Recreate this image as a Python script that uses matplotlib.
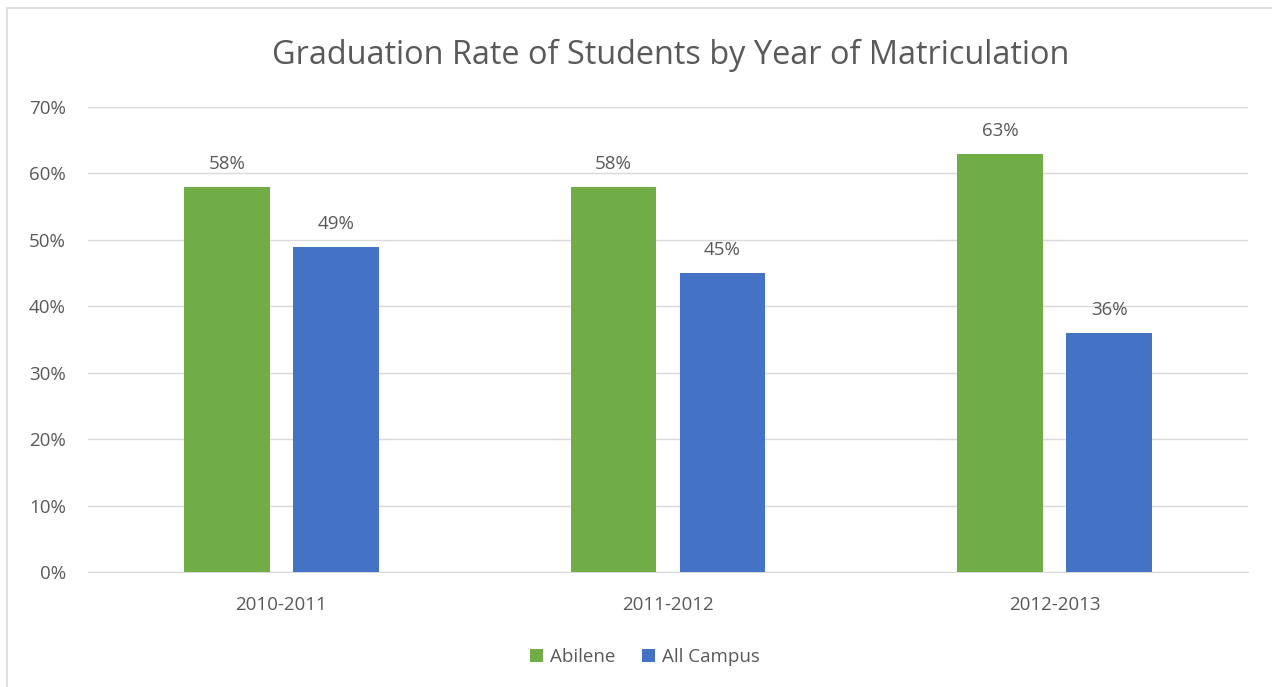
import numpy as np
import matplotlib.pyplot as plt
from matplotlib.patches import Rectangle

# data
years = ["2010-2011", "2011-2012", "2012-2013"]
abilene = [58, 58, 63]
all_campus = [49, 45, 36]
yticks = [0, 10, 20, 30, 40, 50, 60, 70]

green = "#70AD47"
blue = "#4472C4"
text_col = "#595959"
grid_col = "#D9D9D9"
fs = 13.5

plt.rcParams["font.family"] = ["Open Sans", "DejaVu Sans"]

fig = plt.figure(figsize=(12.72, 6.87), dpi=100)
ax = fig.add_axes([88 / 1272, 1 - 572 / 687, 1160 / 1272, 465 / 687])

# chart border like the Excel frame
fig.patches.append(Rectangle((7 / 1272, -0.01), 1.02, 1 - 8 / 687 + 0.01,
                             transform=fig.transFigure, fill=False,
                             edgecolor=grid_col, linewidth=1.2, zorder=0))

x = np.arange(len(years))
w = 0.222
off = 0.141
b1 = ax.bar(x - off, abilene, w, color=green, label="Abilene", zorder=3)
b2 = ax.bar(x + off, all_campus, w, color=blue, label="All Campus", zorder=3)

for bars in (b1, b2):
    for r in bars:
        ax.annotate(f"{r.get_height():.0f}%",
                    (r.get_x() + r.get_width() / 2, r.get_height()),
                    xytext=(0, 10), textcoords="offset points",
                    ha="center", va="bottom", fontsize=fs, color=text_col)

ax.set_xlim(-0.5, len(years) - 0.5)
ax.set_ylim(0, 70)
ax.set_yticks(yticks)
ax.set_yticklabels([f"{v}%" for v in yticks])
ax.set_xticks(x)
ax.set_xticklabels(years)
ax.tick_params(axis="both", length=0, labelsize=fs, labelcolor=text_col)
ax.tick_params(axis="y", pad=16)
ax.tick_params(axis="x", pad=17)

ax.grid(axis="y", color=grid_col, linewidth=1, zorder=0)
for s in ["top", "right", "left"]:
    ax.spines[s].set_visible(False)
ax.spines["bottom"].set_color(grid_col)

fig.text(0.527, 1 - 55 / 687, "Graduation Rate of Students by Year of Matriculation",
         ha="center", va="center", fontsize=23.4, color=text_col)

fig.legend(loc="center", bbox_to_anchor=(0.507, 1 - 657 / 687), ncol=2,
           frameon=False, fontsize=fs, labelcolor=text_col,
           handlelength=0.7, handleheight=0.7, handletextpad=0.4,
           columnspacing=1.4)

fig.savefig("out.png", dpi=100)
